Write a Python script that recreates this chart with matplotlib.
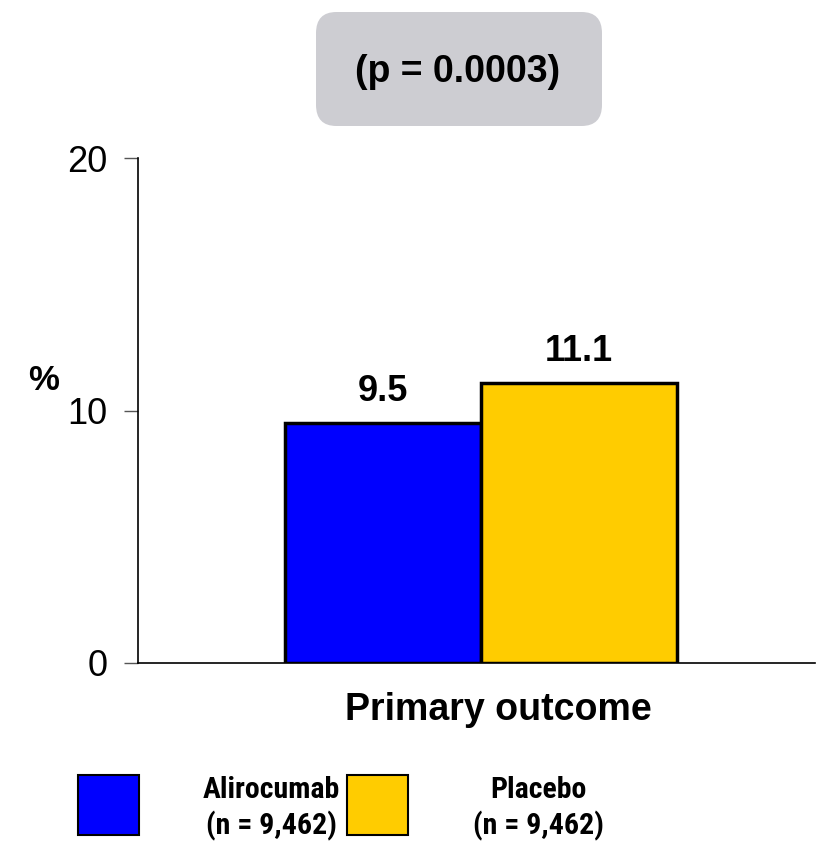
import matplotlib
matplotlib.use("Agg")
import matplotlib.pyplot as plt
from matplotlib.patches import FancyBboxPatch, Rectangle

plt.rcParams['font.family'] = ['Liberation Sans', 'DejaVu Sans']

category = "Primary outcome"
groups = ["Alirocumab", "Placebo"]
group_n = ["(n = 9,462)", "(n = 9,462)"]
values = [9.5, 11.1]
colors = ["#0000ff", "#ffcc00"]
p_text = "(p = 0.0003)"
yticks = [0, 10, 20]

W, H = 817, 847
fig = plt.figure(figsize=(W / 100, H / 100), dpi=100)

ax_l, ax_r = 138 / W, 815 / W
ax_b, ax_t = 1 - 663 / H, 1 - 158 / H
ax = fig.add_axes([ax_l, ax_b, ax_r - ax_l, ax_t - ax_b])

width_px = 815 - 138
x0 = (481 - 138) / width_px
ax.set_xlim(-x0, 1 - x0)
bw = 196 / width_px
offsets = [-bw / 2, bw / 2]
for v, c, off in zip(values, colors, offsets):
    ax.bar(off, v, width=bw, color=c, edgecolor='black', linewidth=2.5, zorder=3)
    ax.text(off, v + 0.55, f"{v}", ha='center', va='bottom', fontsize=26,
            fontweight='bold')

ax.set_ylim(0, 20)
ax.set_yticks(yticks)
ax.set_yticklabels([str(t) for t in yticks], fontsize=26)
ax.tick_params(axis='y', length=10, width=1, color='#555555', pad=12)
ax.set_xticks([])
for s in ['top', 'right']:
    ax.spines[s].set_visible(False)
ax.spines['left'].set_linewidth(1.2)
ax.spines['bottom'].set_linewidth(1.2)

fig.text(28 / W, 1 - 380 / H, "%", fontsize=25, fontweight='bold', ha='left', va='center')
fig.text(498 / W, 1 - 710 / H, category, fontsize=27, fontweight='bold', ha='center', va='center')

box = FancyBboxPatch((316 / W, 1 - 126 / H), (602 - 316) / W, (126 - 12) / H,
                     boxstyle="round,pad=0,rounding_size=0.025",
                     transform=fig.transFigure, facecolor='#cdcdd2', edgecolor='none')
fig.patches.append(box)
fig.text(458 / W, 1 - 72 / H, p_text, fontsize=27, fontweight='bold', ha='center', va='center')

leg_family = ['Roboto Condensed', 'Liberation Sans']
leg_size = 21.5
sq_x = [78, 347]
txt_x = [271, 538]
for g, n, c, sx, tx in zip(groups, group_n, colors, sq_x, txt_x):
    r = Rectangle((sx / W, 1 - 835 / H), 61 / W, 60 / H, transform=fig.transFigure,
                  facecolor=c, edgecolor='black', linewidth=1.5)
    fig.patches.append(r)
    fig.text(tx / W, 1 - 790 / H, g, fontsize=leg_size, fontweight='bold', ha='center',
             va='center', family=leg_family)
    fig.text(tx / W, 1 - 826 / H, n, fontsize=leg_size, fontweight='bold', ha='center',
             va='center', family=leg_family)

fig.savefig("out.png", dpi=100)
